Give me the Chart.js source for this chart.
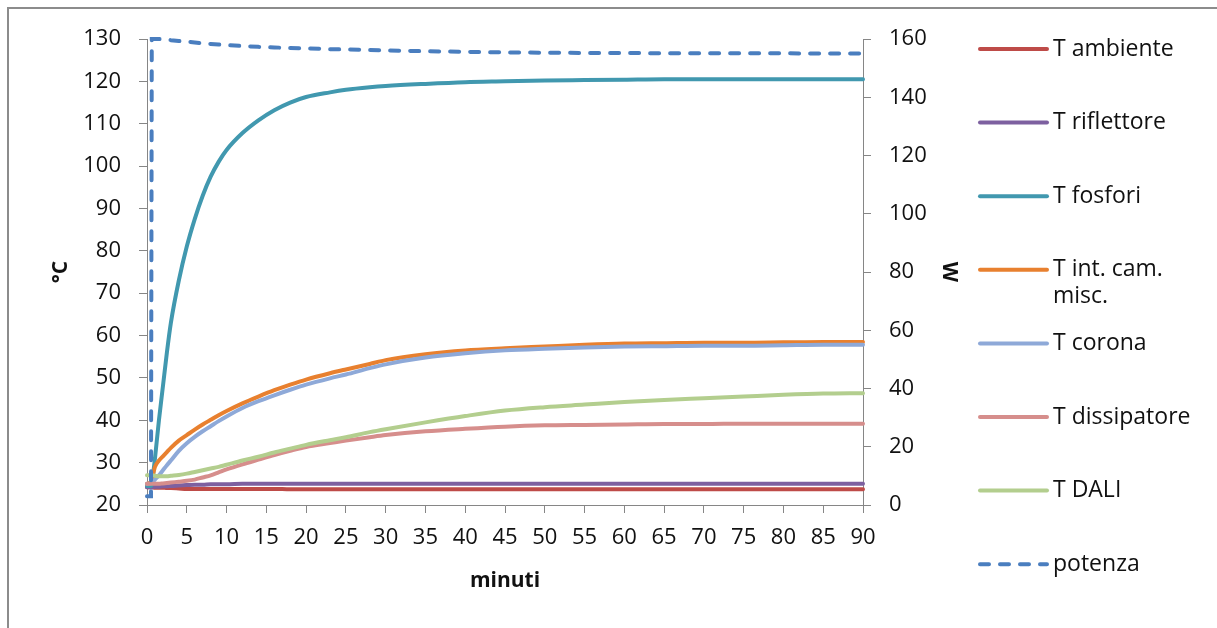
<!DOCTYPE html>
<html lang="it">
<head>
  <meta charset="UTF-8" />
  <title>Temperature e potenza</title>
  <script src="https://cdn.jsdelivr.net/npm/chart.js"></script>
  <style>
    body {
      margin: 0;
      background: #fff;
      overflow: hidden;
    }
    #cornice {
      position: absolute;
      left: 7px;
      top: 7px;
      width: 1240px;
      height: 650px;
      border: 2px solid #8c8c8c;
    }
    #grafico {
      position: absolute;
      left: 0;
      top: 0;
    }
  </style>
</head>
<body>
  <div id="cornice"></div>
  <canvas id="grafico" width="1217" height="628"></canvas>

  <script>
    // minuti di misura
    const minuti = [0, 0.5, 0.6, 1, 1.5, 2, 2.5, 3, 4, 5, 6, 7, 8, 9, 10, 12, 14, 16, 18, 20,
                    23, 25, 28, 30, 35, 40, 45, 50, 55, 60, 65, 70, 75, 80, 85, 90];

    // temperature (°C)
    const tAmbiente = [24.2, 24.2, 24.2, 24.1, 24.1, 24.1, 24.0, 24.0, 23.9, 23.8, 23.8, 23.8, 23.8, 23.8, 23.8,
                       23.8, 23.8, 23.8, 23.7, 23.7, 23.7, 23.7, 23.7, 23.7, 23.7, 23.7, 23.7, 23.7, 23.7, 23.7,
                       23.7, 23.7, 23.7, 23.7, 23.7, 23.7];
    const tRiflettore = [24.2, 24.2, 24.2, 24.3, 24.3, 24.4, 24.4, 24.5, 24.6, 24.7, 24.8, 24.8, 24.9, 24.9, 24.9,
                         25.0, 25.0, 25.0, 25.0, 25.0, 25.0, 25.0, 25.0, 25.0, 25.0, 25.0, 25.0, 25.0, 25.0, 25.0,
                         25.0, 25.0, 25.0, 25.0, 25.0, 25.0];
    const tFosfori = [24.5, 24.5, 25, 31, 40, 48, 56, 63, 73, 81, 87.5, 93, 97.5, 101, 103.8,
                      107.8, 110.8, 113.2, 115, 116.3, 117.4, 118, 118.6, 118.9, 119.4, 119.8, 120, 120.2, 120.3, 120.4,
                      120.5, 120.5, 120.5, 120.5, 120.5, 120.5];
    const tIntCam = [25, 25.5, 26, 29, 30.5, 31.5, 32.5, 33.5, 35.2, 36.5, 37.8, 39, 40.1, 41.2, 42.2,
                     44, 45.6, 47.1, 48.4, 49.6, 51.1, 52, 53.3, 54.2, 55.6, 56.5, 57, 57.4, 57.8, 58.1,
                     58.2, 58.3, 58.3, 58.4, 58.5, 58.5];
    const tCorona = [25, 25.1, 25.2, 26, 27, 28.2, 29.4, 30.5, 32.8, 34.6, 36.1, 37.4, 38.6, 39.8, 40.9,
                     42.9, 44.5, 45.9, 47.2, 48.4, 49.9, 50.8, 52.3, 53.2, 54.8, 55.8, 56.5, 56.9, 57.2, 57.4,
                     57.5, 57.6, 57.6, 57.7, 57.8, 57.8];
    const tDissipatore = [25, 25, 25, 25, 25, 25.1, 25.2, 25.3, 25.5, 25.7, 26, 26.5, 27, 27.7, 28.4,
                          29.6, 30.7, 31.8, 32.8, 33.7, 34.6, 35.2, 36, 36.5, 37.4, 38, 38.5, 38.8, 38.9, 39,
                          39.1, 39.1, 39.2, 39.2, 39.2, 39.2];
    const tDali = [27, 27, 27, 26.9, 26.8, 26.8, 26.8, 26.9, 27.1, 27.4, 27.8, 28.2, 28.6, 29, 29.5,
                   30.5, 31.4, 32.4, 33.3, 34.2, 35.3, 36, 37.2, 37.9, 39.5, 41, 42.3, 43.1, 43.7, 44.3,
                   44.8, 45.2, 45.6, 46, 46.3, 46.4];

    // potenza assorbita (W, asse destro)
    const potenza = [3, 3, 160, 160, 160, 159.9, 159.8, 159.6, 159.3, 159.1, 158.8, 158.5, 158.3, 158.1, 157.9,
                     157.6, 157.3, 157.1, 156.9, 156.8, 156.5, 156.4, 156.2, 156.1, 155.8, 155.6, 155.4, 155.3, 155.2, 155.2,
                     155.1, 155.1, 155.1, 155.1, 155, 155];

    const etichette = ['T ambiente', 'T riflettore', 'T fosfori', ['T int. cam.', 'misc.'],
                       'T corona', 'T dissipatore', 'T DALI', 'potenza'];
    const valori = [tAmbiente, tRiflettore, tFosfori, tIntCam, tCorona, tDissipatore, tDali, potenza];
    const colori = ['#BE4B48', '#7D60A0', '#4198AF', '#E8802F', '#8EA9D8', '#D68E8C', '#B3CE8E', '#4A7EBF'];

    const font = 'Open Sans';
    const grigio = '#868686';

    // legenda stile Excel, disegnata a destra del grafico
    const legendaExcel = {
      id: 'legendaExcel',
      afterDraw(chart) {
        const ctx = chart.ctx;
        ctx.save();
        ctx.font = '23px "' + font + '"';
        ctx.textBaseline = 'middle';
        ctx.fillStyle = '#111';
        chart.data.datasets.forEach((ds, i) => {
          const y = 49 + i * 73.6;
          ctx.strokeStyle = ds.borderColor;
          ctx.lineWidth = 4;
          ctx.lineCap = 'round';
          ctx.setLineDash(ds.borderDash || []);
          ctx.beginPath();
          ctx.moveTo(980, y);
          ctx.lineTo(1047, y);
          ctx.stroke();
          const righe = Array.isArray(ds.label) ? ds.label : [ds.label];
          righe.forEach((r, k) => ctx.fillText(r, 1053, y + k * 27));
        });
        ctx.restore();
      }
    };

    const datasets = valori.map((v, i) => ({
      label: etichette[i],
      data: v.map((y, k) => ({ x: minuti[k], y })),
      borderColor: colori[i],
      borderWidth: 4,
      pointRadius: 0,
      cubicInterpolationMode: i === 7 ? 'default' : 'monotone',
      tension: 0,
      borderDash: i === 7 ? [9, 11] : [],
      borderCapStyle: 'round',
      yAxisID: i === 7 ? 'yW' : 'y',
      order: etichette.length - i,
      clip: false
    }));

    new Chart(document.getElementById('grafico'), {
      type: 'line',
      data: { datasets },
      options: {
        responsive: false,
        animation: false,
        layout: { padding: { left: 0, top: 39, right: 247, bottom: 0 } },
        plugins: {
          legend: { display: false },
          tooltip: { enabled: false }
        },
        scales: {
          x: {
            type: 'linear',
            min: 0,
            max: 90,
            afterFit: s => { s.height = 123; },
            ticks: { stepSize: 5, autoSkip: false, maxRotation: 0, padding: 12,
                     color: '#111', font: { family: font, size: 22 } },
            grid: { drawOnChartArea: false, tickLength: 8, color: grigio },
            border: { color: grigio },
            title: { display: true, text: 'minuti', color: '#111', padding: { bottom: 34 },
                     font: { family: font, size: 21, weight: 'bold' } }
          },
          y: {
            position: 'left',
            min: 20,
            max: 130,
            afterFit: s => { s.width = 147; },
            ticks: { stepSize: 10, padding: 18, color: '#111', font: { family: font, size: 22 } },
            grid: { drawOnChartArea: false, tickLength: 8, color: grigio },
            border: { color: grigio },
            title: { display: true, text: '°C', color: '#111', padding: { top: 48 },
                     font: { family: font, size: 21, weight: 'bold' } }
          },
          yW: {
            position: 'right',
            min: 0,
            max: 160,
            afterFit: s => { s.width = 107; },
            ticks: { stepSize: 20, padding: 18, color: '#111', font: { family: font, size: 22 } },
            grid: { drawOnChartArea: false, tickLength: 8, color: grigio },
            border: { color: grigio },
            title: { display: true, text: 'W', color: '#111', padding: { top: 8 },
                     font: { family: font, size: 21, weight: 'bold' } }
          }
        }
      },
      plugins: [legendaExcel]
    });
  </script>
</body>
</html>
